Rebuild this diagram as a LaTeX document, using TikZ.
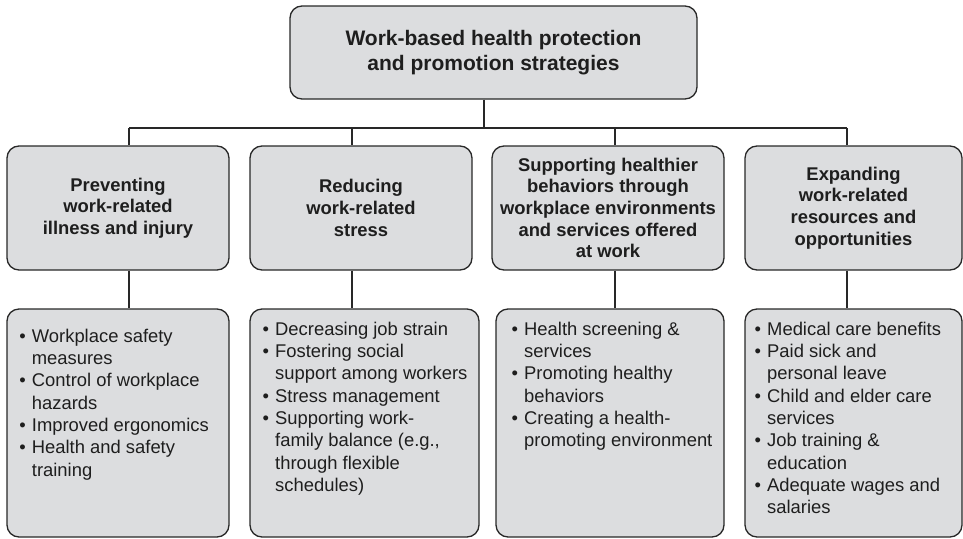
\documentclass[tikz,border=0pt]{standalone}
\usepackage{fontspec}
\setmainfont{Liberation Sans}
\definecolor{boxfill}{RGB}{220,221,223}
\definecolor{edgecol}{RGB}{40,40,40}
\definecolor{inkcol}{RGB}{30,30,30}
\newcommand{\itm}[1]{\makebox[12.5pt][l]{•}#1}
\newcommand{\cont}[1]{\makebox[12.5pt]{}#1}
\begin{document}
\begin{tikzpicture}[x=1pt,y=-1pt,
  box/.style={draw=edgecol, line width=1.3pt, fill=boxfill, rounded corners=12pt, inner sep=0pt, text=inkcol},
  conn/.style={draw=edgecol, line width=1.1pt},
  head/.style={font=\fontsize{18.4}{21.6}\selectfont\bfseries, align=center},
  itemlist/.style={font=\fontsize{18.4}{22.3}\selectfont, align=left, anchor=north west, inner sep=0pt, text=inkcol}]
\useasboundingbox (0,0) rectangle (963,538);

% top
\node[box, minimum width=407pt, minimum height=93pt, font=\fontsize{21}{24.5}\selectfont\bfseries, align=center] (top) at (493.5,52.5) {Work-based health protection\\and promotion strategies};

% header row
\node[box, head, minimum width=222pt, minimum height=124pt] (h1) at (118,208) {Preventing\\work-related\\illness and injury};
\node[box, head, minimum width=222pt, minimum height=124pt] (h2) at (361,208) {Reducing\\work-related\\stress};
\node[box, head, minimum width=232pt, minimum height=124pt] (h3) at (608,208) {Supporting healthier\\behaviors through\\workplace environments\\and services offered\\at work};
\node[box, head, minimum width=217pt, minimum height=124pt] (h4) at (853.5,208) {Expanding\\work-related\\resources and\\opportunities};

% bottom row
\node[box, minimum width=222pt, minimum height=228pt] (b1) at (118,423) {};
\node[box, minimum width=229pt, minimum height=228pt] (b2) at (364.5,423) {};
\node[box, minimum width=228pt, minimum height=228pt] (b3) at (610,423) {};
\node[box, minimum width=217pt, minimum height=228pt] (b4) at (853.5,423) {};

\node[itemlist] (l1) at (19.2,328.8) {\itm{Workplace safety}\\\cont{measures}\\\itm{Control of workplace}\\\cont{hazards}\\\itm{Improved ergonomics}\\\itm{Health and safety}\\\cont{training}};
\node[itemlist] (l2) at (262.5,321.8) {\itm{Decreasing job strain}\\\itm{Fostering social}\\\cont{support among workers}\\\itm{Stress management}\\\itm{Supporting work-}\\\cont{family balance (e.g.,}\\\cont{through flexible}\\\cont{schedules)}};
\node[itemlist] (l3) at (511.5,321.8) {\itm{Health screening \&}\\\cont{services}\\\itm{Promoting healthy}\\\cont{behaviors}\\\itm{Creating a health-}\\\cont{promoting environment}};
\node[itemlist] (l4) at (754.5,321.8) {\itm{Medical care benefits}\\\itm{Paid sick and}\\\cont{personal leave}\\\itm{Child and elder care}\\\cont{services}\\\itm{Job training \&}\\\cont{education}\\\itm{Adequate wages and}\\\cont{salaries}};

% connectors
\coordinate (c0) at (484,128);
\coordinate (c1) at (129,128);
\coordinate (c2) at (352,128);
\coordinate (c3) at (615,128);
\coordinate (c4) at (847,128);
\draw[conn] (top.south -| c0) -- (c0);
\draw[conn] (c1) -- (c4);
\foreach \i in {1,2,3,4}{
  \draw[conn] (c\i) -- (c\i |- h\i.north);
  \draw[conn] (h\i.south -| c\i) -- (c\i |- b\i.north);
}
\end{tikzpicture}
\end{document}
